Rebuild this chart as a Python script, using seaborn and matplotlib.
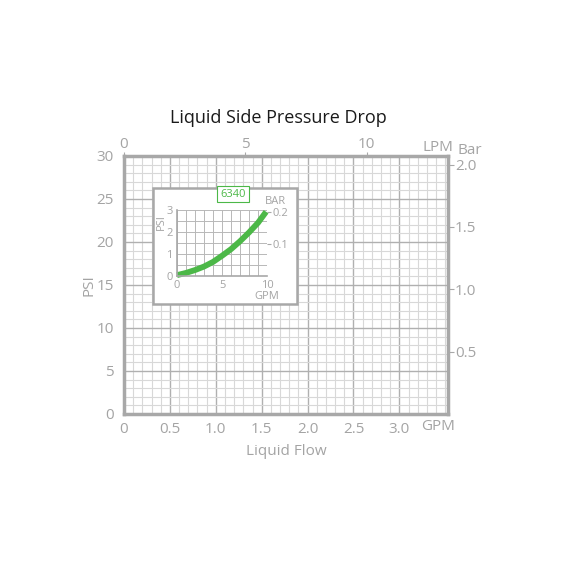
import numpy as np
import matplotlib
matplotlib.use("Agg")
import matplotlib.pyplot as plt
from matplotlib.patches import Rectangle
import seaborn as sns
import pandas as pd

# data
gpm_ticks = [0, 0.5, 1.0, 1.5, 2.0, 2.5, 3.0]
gpm_labels = ["0", "0.5", "1.0", "1.5", "2.0", "2.5", "3.0"]
lpm_ticks = [0, 5, 10]
psi_ticks = [0, 5, 10, 15, 20, 25, 30]
bar_ticks = [0.5, 1.0, 1.5, 2.0]

# inset curve for model 6340 (GPM vs PSI)
inset_gpm = [0, 1, 2, 3, 4, 5, 6, 7, 8, 9, 9.9]
inset_psi = [0.04, 0.14, 0.27, 0.43, 0.64, 0.92, 1.22, 1.58, 1.98, 2.42, 2.92]
inset_bar_ticks = [0.1, 0.2]

PSI_PER_BAR = 14.5038
LPM_PER_GPM = 3.785

GRAY = "#a8a8a8"
TXT = "#a4a4a4"
GREEN = "#4cb848"

sns.set_style("white")
plt.rcParams["font.family"] = ["Open Sans", "DejaVu Sans"]

fig = plt.figure(figsize=(5.65, 5.65), dpi=100)
ax = fig.add_axes([0.2195, 0.2673, 0.5735, 0.4566])

ax.set_xlim(0, 3.53)
ax.set_ylim(0, 30)
ax.set_xticks(gpm_ticks)
ax.set_xticklabels(gpm_labels)
ax.set_yticks(psi_ticks)
ax.set_xticks(np.arange(0, 3.55, 0.1), minor=True)
ax.set_yticks(np.arange(0, 31, 1), minor=True)
ax.grid(True, which="minor", color="#d8d8d8", lw=0.8)
ax.grid(True, which="major", color="#b0b0b0", lw=1.0)
ax.set_axisbelow(True)
for s in ax.spines.values():
    s.set_color(GRAY)
    s.set_linewidth(2.5)
ax.tick_params(axis="both", which="major", colors=GRAY, labelcolor=TXT,
               labelsize=11, length=4, width=1, direction="out")
ax.tick_params(axis="x", which="major", length=0, pad=6)
ax.tick_params(which="minor", length=0)
ax.set_xlabel("Liquid Flow", color=TXT, fontsize=11, labelpad=5)
ax.set_ylabel("PSI", color=TXT, fontsize=11, labelpad=0)
ax.text(3.42, -0.047, "GPM", transform=ax.get_xaxis_transform(),
        ha="center", va="center", color=TXT, fontsize=11)

top = ax.secondary_xaxis("top", functions=(lambda g: g * LPM_PER_GPM,
                                            lambda l: l / LPM_PER_GPM))
top.set_xticks(lpm_ticks)
top.tick_params(colors=GRAY, labelcolor=TXT, labelsize=11, length=3, pad=0)
top.spines["top"].set_visible(False)
ax.text(3.42, 1.005, "LPM", transform=ax.get_xaxis_transform(),
        ha="center", va="bottom", color=TXT, fontsize=11)

right = ax.secondary_yaxis("right", functions=(lambda p: p / PSI_PER_BAR,
                                               lambda b: b * PSI_PER_BAR))
right.set_yticks(bar_ticks)
right.set_yticklabels([f"{b:.1f}" for b in bar_ticks])
right.tick_params(colors=GRAY, labelcolor=TXT, labelsize=11, length=4, pad=1)
right.spines["right"].set_visible(False)
ax.text(1.03, 1.02, "Bar", transform=ax.transAxes, ha="left", va="center",
        color=TXT, fontsize=11)

fig.text(0.492, 0.792, "Liquid Side Pressure Drop", ha="center", va="center",
         fontsize=13, color="#1a1a1a")

# inset panel
fig.patches.append(Rectangle((0.2708, 0.4619), 0.2549, 0.2053,
                             transform=fig.transFigure, facecolor="white",
                             edgecolor=GRAY, lw=1.8, zorder=5))
iax = fig.add_axes([0.3133, 0.5115, 0.1593, 0.1168], zorder=6)
df = pd.DataFrame({"GPM": inset_gpm, "PSI": inset_psi})
sns.lineplot(data=df, x="GPM", y="PSI", ax=iax, color=GREEN, lw=4.2,
             solid_capstyle="butt", clip_on=False)
iax.set_xlim(0, 10)
iax.set_ylim(0, 3)
iax.set_xticks([0, 5, 10])
iax.set_yticks([0, 1, 2, 3])
iax.set_xticks(np.arange(0, 11, 1), minor=True)
iax.set_yticks(np.arange(0, 3.01, 0.5), minor=True)
iax.grid(True, which="both", color="#b8b8b8", lw=0.7)
iax.set_axisbelow(True)
for k, s in iax.spines.items():
    s.set_color(GRAY)
    s.set_linewidth(1.2)
iax.spines["top"].set_visible(False)
iax.spines["right"].set_visible(False)
iax.tick_params(which="major", colors=GRAY, labelcolor=TXT, labelsize=8,
                length=2, pad=1)
iax.tick_params(which="minor", length=0)
iax.set_xlabel("")
iax.set_ylabel("PSI", color=TXT, fontsize=8, labelpad=1)
iax.yaxis.set_label_coords(-0.11, 0.82)
iax.text(10, -0.95, "GPM", ha="center", va="center", color=TXT, fontsize=8)

ir = iax.secondary_yaxis("right", functions=(lambda p: p / PSI_PER_BAR,
                                             lambda b: b * PSI_PER_BAR))
ir.set_yticks(inset_bar_ticks)
ir.tick_params(colors=GRAY, labelcolor=TXT, labelsize=8, length=3, pad=1)
ir.spines["right"].set_visible(False)
iax.text(1.09, 1.04, "BAR", transform=iax.transAxes, ha="center", va="bottom",
         color=TXT, fontsize=8)

fig.text(0.4124, 0.6566, "6340", ha="center", va="center", fontsize=8,
         color=GREEN, zorder=7,
         bbox=dict(boxstyle="square,pad=0.25", fc="white", ec=GREEN, lw=0.8))

fig.savefig("out.png", dpi=100)
